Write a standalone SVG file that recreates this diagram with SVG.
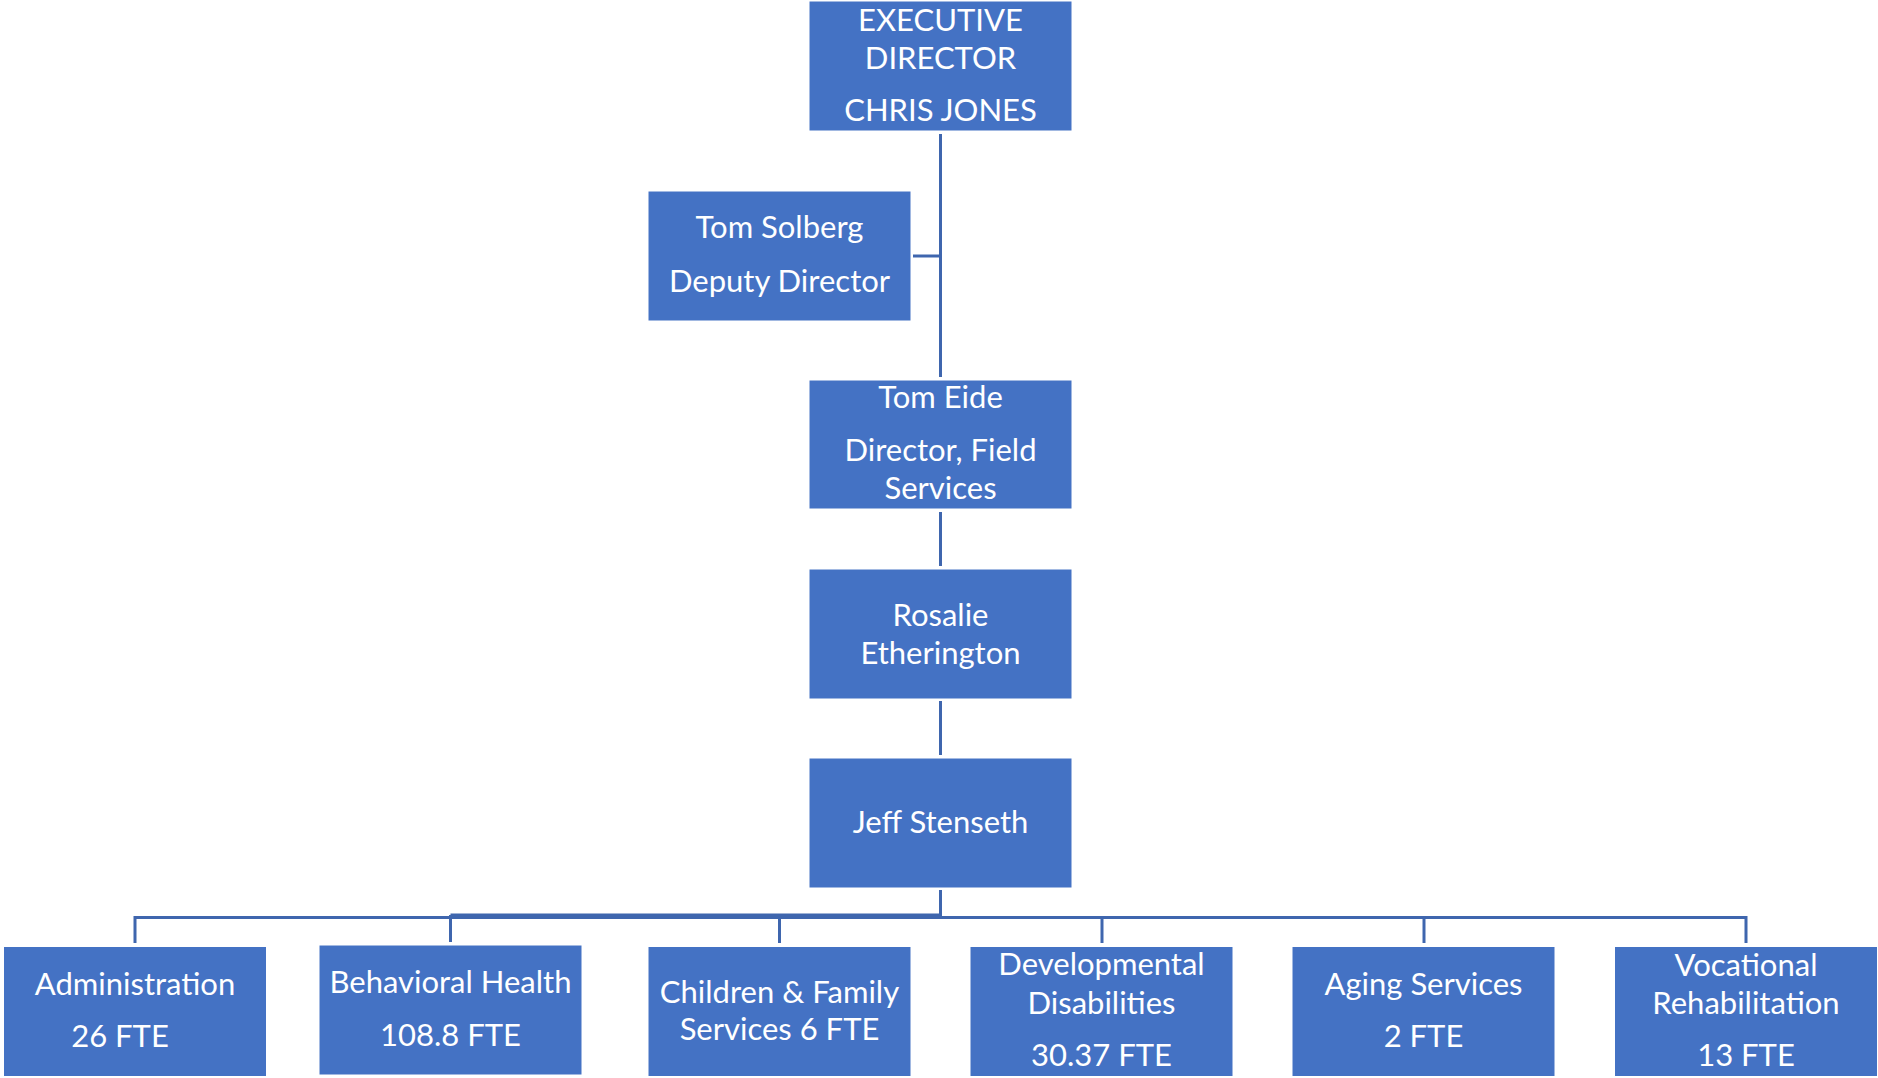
<svg xmlns="http://www.w3.org/2000/svg" width="1878" height="1078" viewBox="0 0 1878 1078">
<style>
.box{fill:#4472C4;stroke:#ffffff;stroke-width:1}
.t{font-family:Lato,"Liberation Sans",sans-serif;font-size:31px;fill:#ffffff;text-anchor:middle}
.c{fill:none;stroke:#3F66AE;stroke-width:3}
</style>
<rect width="1878" height="1078" fill="#ffffff"/>
<g id="connectors">
<line class="c" x1="940.5" y1="134" x2="940.5" y2="377"/>
<line class="c" x1="913" y1="256" x2="940.5" y2="256"/>
<line class="c" x1="940.5" y1="512" x2="940.5" y2="566"/>
<line class="c" x1="940.5" y1="701" x2="940.5" y2="755"/>
<line class="c" x1="940.5" y1="890" x2="940.5" y2="916"/>
<polyline class="c" points="135,943 135,917.5 1746,917.5 1746,943"/>
<line class="c" x1="450.5" y1="915" x2="940.5" y2="915"/>
<line class="c" x1="450.5" y1="915" x2="450.5" y2="942"/>
<line class="c" x1="779.5" y1="917.5" x2="779.5" y2="943"/>
<line class="c" x1="1102" y1="917.5" x2="1102" y2="943"/>
<line class="c" x1="1424" y1="917.5" x2="1424" y2="943"/>
</g>
<g id="exec">
<rect class="box" x="809" y="1" width="263" height="130"/>
<text class="t" x="940.5" y="30.5">EXECUTIVE</text>
<text class="t" x="940.5" y="69">DIRECTOR</text>
<text class="t" x="940.5" y="120.5">CHRIS JONES</text>
</g>
<g id="deputy">
<rect class="box" x="648" y="191" width="263" height="130"/>
<text class="t" x="779.5" y="238">Tom Solberg</text>
<text class="t" x="779.5" y="291.5">Deputy Director</text>
</g>
<g id="field">
<rect class="box" x="809" y="380" width="263" height="129"/>
<text class="t" x="940.5" y="408">Tom Eide</text>
<text class="t" x="940.5" y="460.5">Director, Field</text>
<text class="t" x="940.5" y="499">Services</text>
</g>
<g id="rosalie">
<rect class="box" x="809" y="569" width="263" height="130"/>
<text class="t" x="940.5" y="625.5">Rosalie</text>
<text class="t" x="940.5" y="664">Etherington</text>
</g>
<g id="jeff">
<rect class="box" x="809" y="758" width="263" height="130"/>
<text class="t" x="940.5" y="833">Jeff Stenseth</text>
</g>
<g id="admin">
<rect class="box" x="3.5" y="946.5" width="263" height="130"/>
<text class="t" x="135" y="995">Administration</text>
<text class="t" x="120" y="1046.5">26 FTE</text>
</g>
<g id="behavioral">
<rect class="box" x="319" y="945" width="263" height="130"/>
<text class="t" x="450.5" y="992.5">Behavioral Health</text>
<text class="t" x="450.5" y="1045.5">108.8 FTE</text>
</g>
<g id="children">
<rect class="box" x="648" y="946.5" width="263" height="130"/>
<text class="t" x="779.5" y="1002.5">Children &amp; Family</text>
<text class="t" x="779.5" y="1039.5">Services 6 FTE</text>
</g>
<g id="developmental">
<rect class="box" x="970" y="946.5" width="263" height="130"/>
<text class="t" x="1101.5" y="975">Developmental</text>
<text class="t" x="1101.5" y="1013.5">Disabilities</text>
<text class="t" x="1101.5" y="1066">30.37 FTE</text>
</g>
<g id="aging">
<rect class="box" x="1292" y="946.5" width="263" height="130"/>
<text class="t" x="1423.5" y="994.5">Aging Services</text>
<text class="t" x="1423.5" y="1047">2 FTE</text>
</g>
<g id="vocational">
<rect class="box" x="1614.5" y="946.5" width="263" height="130"/>
<text class="t" x="1746" y="975.5">Vocational</text>
<text class="t" x="1746" y="1013.5">Rehabilitation</text>
<text class="t" x="1746" y="1066">13 FTE</text>
</g>
</svg>
